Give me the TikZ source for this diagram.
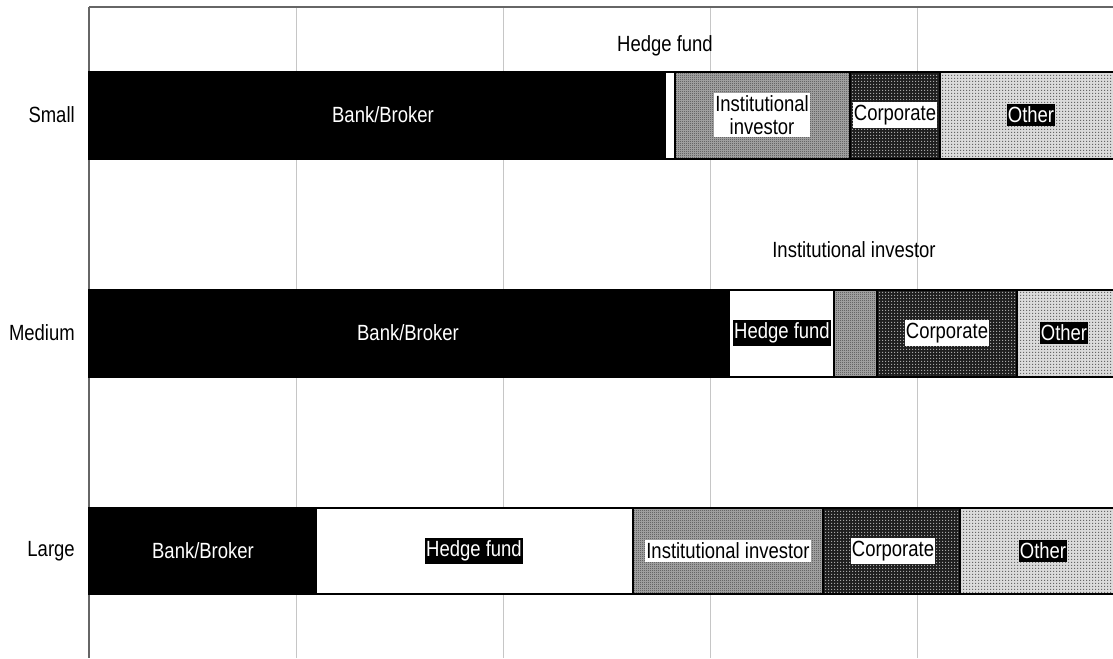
\documentclass[tikz,border=0pt]{standalone}
\usepackage{fontspec}
\setmainfont{Liberation Sans}
\newfontfamily\chartfont[FakeStretch=0.84]{Liberation Sans}
\usetikzlibrary{patterns}
\pgfdeclarepatternformonly{finedots}{\pgfpointorigin}{\pgfqpoint{2.25pt}{2.25pt}}{\pgfqpoint{2.25pt}{2.25pt}}{%
  \pgfpathrectangle{\pgfpointorigin}{\pgfqpoint{1.1pt}{1.1pt}}\pgfusepath{fill}}
\pgfdeclarepatternformonly{checker}{\pgfpointorigin}{\pgfqpoint{1.5pt}{1.5pt}}{\pgfqpoint{1.5pt}{1.5pt}}{%
  \pgfpathrectangle{\pgfpointorigin}{\pgfqpoint{0.75pt}{0.75pt}}%
  \pgfpathrectangle{\pgfqpoint{0.75pt}{0.75pt}}{\pgfqpoint{0.75pt}{0.75pt}}\pgfusepath{fill}}
\begin{document}
\begin{tikzpicture}[x=0.75pt,y=-0.75pt,
  seg/.style={draw=black,line width=1.6pt},
  bank/.style={seg,fill=black},
  hedge/.style={seg,fill=white},
  inst/.style={seg,fill=gray!65},
  instpat/.style={pattern=checker,pattern color=black!75},
  corp/.style={seg,fill=black!88},
  corppat/.style={pattern=finedots,pattern color=white!65!black},
  other/.style={seg,fill=gray!28},
  otherpat/.style={pattern=finedots,pattern color=black!60},
  lbl/.style={font=\chartfont\fontsize{16.5pt}{17pt}\selectfont,inner sep=0pt},
  wbox/.style={lbl,fill=white,text=black,inner xsep=1pt,inner ysep=2pt},
  bbox/.style={lbl,fill=black,text=white,inner xsep=1pt,inner ysep=2pt},
  grid/.style={draw=gray!45,line width=0.75pt},
  axis/.style={draw=gray!80!black,line width=1.6pt}
]
\useasboundingbox (0,0) rectangle (1113,658);
% gridlines
\foreach \gx in {296,503,710,917} \draw[grid] (\gx,7) -- (\gx,658);
\draw[axis] (89,7) -- (1113,7);
\draw[axis] (89,7) -- (89,658);
% Small
\path[bank] (89,72) rectangle (665,159);
\path[hedge] (665,72) rectangle (675,159);
\path[inst] (675,72) rectangle (850,159);
\path[instpat] (675,72) rectangle (850,159);
\path[corp] (850,72) rectangle (940,159);
\path[corppat] (850,72) rectangle (940,159);
\path[other] (940,72) rectangle (1114,159);
\path[otherpat] (940,72) rectangle (1114,159);
\draw[seg] (665,72) -- (665,159) (675,72) -- (675,159) (850,72) -- (850,159) (940,72) -- (940,159);
\draw[seg] (89,72) rectangle (1114,159);
% Medium
\path[bank] (89,290) rectangle (729,377);
\path[hedge] (729,290) rectangle (834,377);
\path[inst] (834,290) rectangle (877,377);
\path[instpat] (834,290) rectangle (877,377);
\path[corp] (877,290) rectangle (1017,377);
\path[corppat] (877,290) rectangle (1017,377);
\path[other] (1017,290) rectangle (1114,377);
\path[otherpat] (1017,290) rectangle (1114,377);
\draw[seg] (834,290) -- (834,377) (877,290) -- (877,377) (1017,290) -- (1017,377);
\draw[seg] (89,290) rectangle (1114,377);
% Large
\path[bank] (89,508) rectangle (316,594);
\path[hedge] (316,508) rectangle (633,594);
\path[inst] (633,508) rectangle (823,594);
\path[instpat] (633,508) rectangle (823,594);
\path[corp] (823,508) rectangle (960,594);
\path[corppat] (823,508) rectangle (960,594);
\path[other] (960,508) rectangle (1114,594);
\path[otherpat] (960,508) rectangle (1114,594);
\draw[seg] (633,508) -- (633,594) (823,508) -- (823,594) (960,508) -- (960,594);
\draw[seg] (89,508) rectangle (1114,594);
% category labels
\node[lbl,anchor=east] (cs) at (75,115) {Small};
\node[lbl,anchor=east] (cm) at (75,333) {Medium};
\node[lbl,anchor=east] (cl) at (75,551) {Large};
% Small labels
\node[lbl,text=white] (sb) at (383,115) {Bank/Broker};
\node[lbl] (sh) at (665,46) {Hedge fund};
\node[wbox,align=center] (si) at (762,115) {Institutional\\investor};
\node[wbox] (sc) at (895,115) {Corporate};
\node[bbox] (so) at (1031,115) {Other};
% Medium labels
\node[lbl,text=white] (mb) at (408,333) {Bank/Broker};
\node[bbox] (mh) at (782,333) {Hedge fund};
\node[lbl] (mi) at (854,250) {Institutional investor};
\node[wbox] (mc) at (947,333) {Corporate};
\node[bbox] (mo) at (1064,333) {Other};
% Large labels
\node[lbl,text=white] (lb) at (203,551) {Bank/Broker};
\node[bbox] (lh) at (474,551) {Hedge fund};
\node[wbox] (li) at (728,551) {Institutional investor};
\node[wbox] (lc) at (893,551) {Corporate};
\node[bbox] (lo) at (1043,551) {Other};
\end{tikzpicture}
\end{document}
